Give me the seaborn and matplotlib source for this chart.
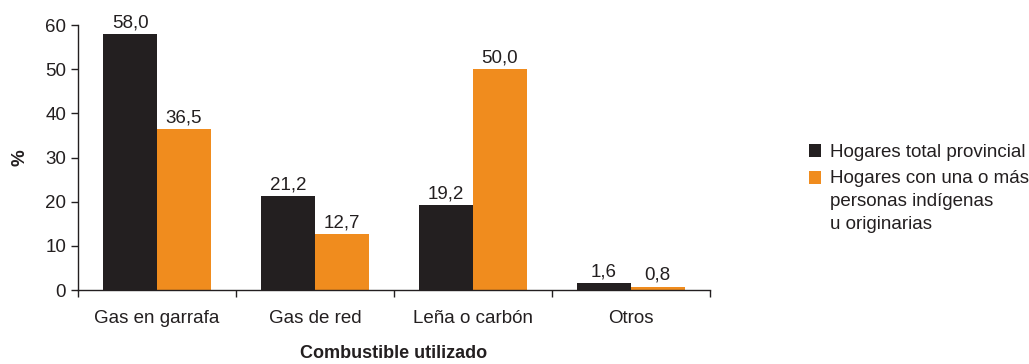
import pandas as pd
import seaborn as sns
import matplotlib.pyplot as plt

# Datos del gráfico
categorias = ['Gas en garrafa', 'Gas de red', 'Leña o carbón', 'Otros']
total_provincial = [58.0, 21.2, 19.2, 1.6]
indigenas = [36.5, 12.7, 50.0, 0.8]
series = ['Hogares total provincial',
          'Hogares con una o más\npersonas indígenas\nu originarias']

df = pd.DataFrame({
    'categoria': categorias * 2,
    'valor': total_provincial + indigenas,
    'serie': [series[0]] * 4 + [series[1]] * 4,
})

sns.set_style('white')
plt.rcParams['font.family'] = ['Liberation Sans', 'DejaVu Sans']
fs = 13.5

fig = plt.figure(figsize=(10.29, 3.64), dpi=100)
ax = fig.add_axes([0.0758, 0.203, 0.614, 0.728])

sns.barplot(data=df, x='categoria', y='valor', hue='serie', ax=ax,
            palette=['#231f20', '#f08c1e'], width=0.68, gap=0, saturation=1,
            edgecolor='none')

# Rótulos de datos
for cont in ax.containers:
    ax.bar_label(cont, labels=[f'{v:.1f}'.replace('.', ',') for v in cont.datavalues],
                 padding=2, fontsize=fs, color='#231f20')

ax.set_xlim(-0.5, 3.5)
ax.set_ylim(0, 60)
ax.set_yticks(range(0, 61, 10))
ax.set_xticks([-0.5, 0.5, 1.5, 2.5, 3.5], minor=True)
ax.tick_params(axis='x', which='major', length=0, pad=14, labelsize=fs, labelcolor='#231f20')
ax.tick_params(axis='x', which='minor', length=5, width=1, color='#231f20', bottom=True)
ax.tick_params(axis='y', length=5, width=1, color='#231f20', labelsize=fs, labelcolor='#231f20', left=True)

for s in ['top', 'right']:
    ax.spines[s].set_visible(False)
for s in ['left', 'bottom']:
    ax.spines[s].set_color('#231f20')
    ax.spines[s].set_linewidth(1)

ax.set_xlabel('Combustible utilizado', fontsize=fs - 0.5, fontweight='bold', labelpad=13, color='#231f20')
ax.set_ylabel('%', fontsize=fs, fontweight='bold', labelpad=12, color='#231f20')

leg = ax.legend(loc='upper left', bbox_to_anchor=(0.779, 0.625), bbox_transform=fig.transFigure,
                frameon=False, fontsize=fs, handlelength=0.65, handleheight=0.65,
                handletextpad=0.45, labelspacing=0.5, borderaxespad=0)
for t in leg.get_texts():
    t.set_color('#231f20')
    t.set_linespacing(1.45)
# alinear el cuadrado de la serie multilinea con su primera linea
h = leg.legend_handles[1]
h.set_y(h.get_y() + 17.5)

fig.savefig('out.png', dpi=100)
